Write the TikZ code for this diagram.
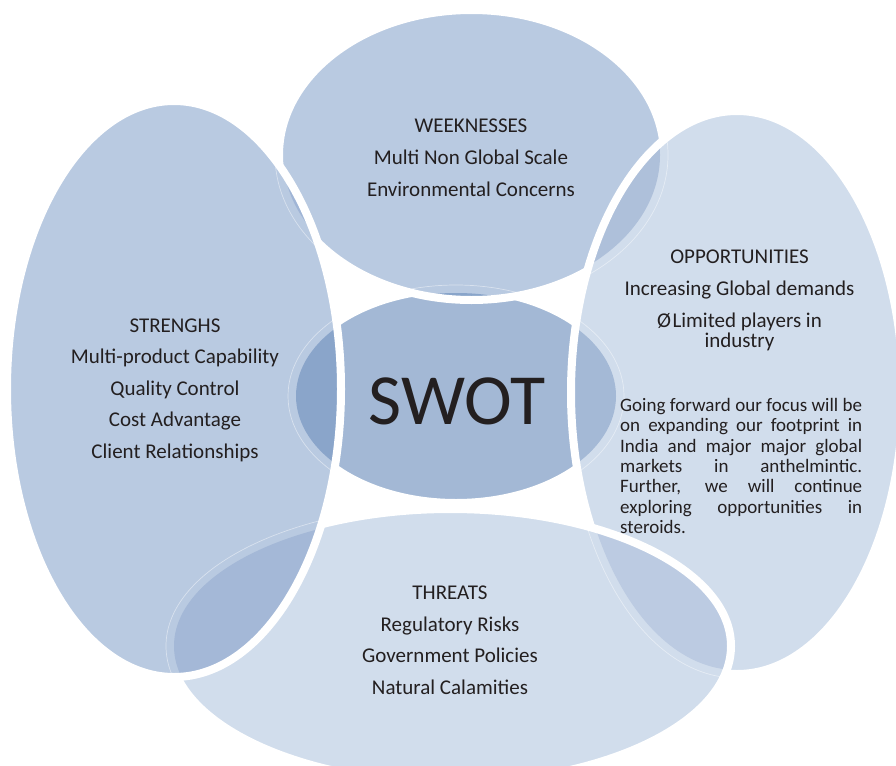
\documentclass[tikz,border=0pt]{standalone}
\usepackage{fontspec}
\setmainfont{Carlito}
\definecolor{swC}{HTML}{A3B8D5}
\definecolor{sC}{HTML}{B9CAE1}
\definecolor{wC}{HTML}{B9CAE1}
\definecolor{oC}{HTML}{D1DDEC}
\definecolor{tC}{HTML}{D1DDEC}
\definecolor{ovSWW}{HTML}{89A5CA}
\definecolor{ovSWO}{HTML}{A4B9D6}
\definecolor{ovSWT}{HTML}{9FB5D4}
\definecolor{ovWO}{HTML}{AEC0DA}
\definecolor{ovOT}{HTML}{BCCBE2}
\definecolor{ovSWS}{HTML}{8AA5CA}
\definecolor{ovWS}{HTML}{A0B5D6}
\definecolor{ovTS}{HTML}{A4B8D7}
\definecolor{txt}{HTML}{231F20}
\begin{document}
\begin{tikzpicture}[x=1pt,y=-1pt,
  edge/.style={draw=white, line width=8pt},
  seam/.style={draw=white, draw opacity=0.45, line width=0.7pt},
  lbl/.style={inner sep=0pt, text=txt, font=\fontsize{21}{31.7}\selectfont, anchor=base},
  para/.style={inner sep=0pt, text=txt, font=\fontsize{19}{20.3}\selectfont, anchor=base west}]
\useasboundingbox (0,0) rectangle (896,765);
% ---- centre SWOT ellipse
\fill[swC] (456,396) ellipse [x radius=164, y radius=107];
\draw[edge] (456,396) ellipse [x radius=164, y radius=107];
% ---- weaknesses
\fill[wC] (471.5,155) ellipse [x radius=192.5, y radius=145];
\begin{scope}
  \clip (471.5,155) ellipse [x radius=192.5, y radius=145];
  \fill[ovSWW] (456,396) ellipse [x radius=160, y radius=103];
  \draw[seam] (456,396) ellipse [x radius=168, y radius=111];
\end{scope}
\draw[edge] (471.5,155) ellipse [x radius=192.5, y radius=145];
% ---- opportunities
\fill[oC] (737,392.5) ellipse [x radius=166, y radius=281.5];
\begin{scope}
  \clip (737,392.5) ellipse [x radius=166, y radius=281.5];
  \fill[ovSWO] (456,396) ellipse [x radius=160, y radius=103];
  \draw[seam] (456,396) ellipse [x radius=168, y radius=111];
  \fill[ovWO] (471.5,155) ellipse [x radius=188.5, y radius=141];
  \draw[seam] (471.5,155) ellipse [x radius=196.5, y radius=149];
\end{scope}
\draw[edge] (737,392.5) ellipse [x radius=166, y radius=281.5];
% ---- threats
\fill[tC] (450.5,646) ellipse [x radius=280.5, y radius=137];
\begin{scope}
  \clip (450.5,646) ellipse [x radius=280.5, y radius=137];
  \fill[ovSWT] (456,396) ellipse [x radius=160, y radius=103];
  \draw[seam] (456,396) ellipse [x radius=168, y radius=111];
  \fill[ovOT] (737,392.5) ellipse [x radius=162, y radius=277.5];
  \draw[seam] (737,392.5) ellipse [x radius=170, y radius=285.5];
\end{scope}
\draw[edge] (450.5,646) ellipse [x radius=280.5, y radius=137];
% ---- strengths
\fill[sC] (174,389) ellipse [x radius=167, y radius=288];
\begin{scope}
  \clip (174,389) ellipse [x radius=167, y radius=288];
  \fill[ovSWS] (456,396) ellipse [x radius=160, y radius=103];
  \draw[seam] (456,396) ellipse [x radius=168, y radius=111];
  \fill[ovWS] (471.5,155) ellipse [x radius=188.5, y radius=141];
  \draw[seam] (471.5,155) ellipse [x radius=196.5, y radius=149];
  \fill[ovTS] (450.5,646) ellipse [x radius=276.5, y radius=133];
  \draw[seam] (450.5,646) ellipse [x radius=284.5, y radius=141];
\end{scope}
\draw[edge] (174,389) ellipse [x radius=167, y radius=288];
% ---- texts
\node[inner sep=0pt, text=txt, font=\fontsize{72}{80}\selectfont, anchor=base] (swot) at (457,424) {SWOT};
\node[lbl] (wtext) at (471,132) {\vtop{\hsize=320pt\parindent=0pt\centering\baselineskip=32.3pt
  WEEKNESSES\\Multi Non Global Scale\\Environmental Concerns\par}};
\node[lbl] (stext) at (175,332) {\vtop{\hsize=300pt\parindent=0pt\centering\baselineskip=31.6pt
  STRENGHS\\Multi-product Capability\\Quality Control\\Cost Advantage\\Client Relationships\par}};
\node[lbl] (otext) at (739.5,263.3) {\vtop{\hsize=300pt\parindent=0pt\centering\baselineskip=32.3pt
  OPPORTUNITIES\\Increasing Global demands\\Ø\kern1.5pt Limited players in\\[-12.3pt]industry\par}};
\node[lbl] (ttext) at (450,599.3) {\vtop{\hsize=300pt\parindent=0pt\centering\baselineskip=31.7pt
  THREATS\\Regulatory Risks\\Government Policies\\Natural Calamities\par}};
\node[para] (ptext) at (620,411.5) {\vtop{\hsize=242pt\parindent=0pt\baselineskip=20.3pt
  \makebox[242pt][s]{Going forward our focus will be}\\
  \makebox[242pt][s]{on expanding our footprint in}\\
  \makebox[242pt][s]{India and major major global}\\
  \makebox[242pt][s]{markets in anthelmintic.}\\
  \makebox[242pt][s]{Further, we will continue}\\
  \makebox[242pt][s]{exploring opportunities in}\\
  steroids.\par}};
\end{tikzpicture}
\end{document}
